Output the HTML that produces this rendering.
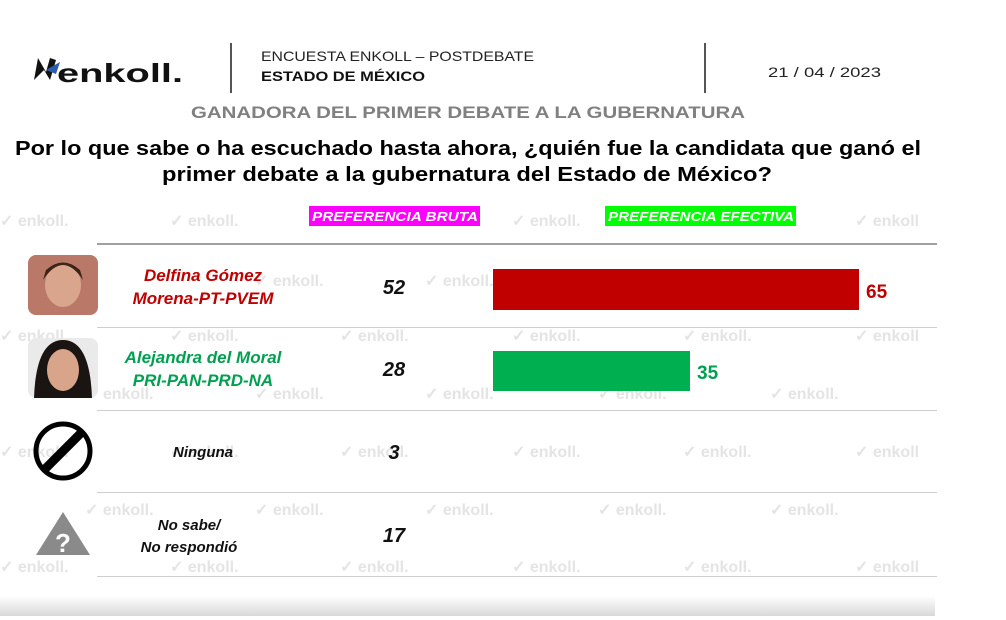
<!DOCTYPE html>
<html><head><meta charset="utf-8"><style>
html,body{margin:0;padding:0;background:#fff;width:1006px;height:620px;overflow:hidden}
text{font-family:"Liberation Sans",sans-serif}
</style></head><body>
<svg width="1006" height="620" viewBox="0 0 1006 620" xmlns="http://www.w3.org/2000/svg">
<defs><linearGradient id="bg" x1="0" y1="0" x2="0" y2="1"><stop offset="0" stop-color="#fff"/><stop offset="1" stop-color="#d8d8d8"/></linearGradient></defs>
<rect width="1006" height="620" fill="#fff"/>
<rect x="0" y="596" width="935" height="20" fill="url(#bg)"/>
<!-- watermarks -->
<g fill="#e4e4e4" font-size="16" font-weight="bold">
<text x="0" y="226">✓ enkoll.</text><text x="170" y="226">✓ enkoll.</text><text x="512" y="226">✓ enkoll.</text><text x="855" y="226">✓ enkoll</text>
<text x="255" y="286">✓ enkoll.</text><text x="425" y="286">✓ enkoll.</text>
<text x="0" y="341">✓ enkoll.</text><text x="170" y="341">✓ enkoll.</text><text x="340" y="341">✓ enkoll.</text><text x="512" y="341">✓ enkoll.</text><text x="683" y="341">✓ enkoll.</text><text x="855" y="341">✓ enkoll</text>
<text x="85" y="399">✓ enkoll.</text><text x="255" y="399">✓ enkoll.</text><text x="425" y="399">✓ enkoll.</text><text x="598" y="399">✓ enkoll.</text><text x="770" y="399">✓ enkoll.</text>
<text x="0" y="457">✓ enkoll.</text><text x="170" y="457">✓ enkoll.</text><text x="340" y="457">✓ enkoll.</text><text x="512" y="457">✓ enkoll.</text><text x="683" y="457">✓ enkoll.</text><text x="855" y="457">✓ enkoll</text>
<text x="85" y="515">✓ enkoll.</text><text x="255" y="515">✓ enkoll.</text><text x="425" y="515">✓ enkoll.</text><text x="598" y="515">✓ enkoll.</text><text x="770" y="515">✓ enkoll.</text>
<text x="0" y="572">✓ enkoll.</text><text x="170" y="572">✓ enkoll.</text><text x="340" y="572">✓ enkoll.</text><text x="512" y="572">✓ enkoll.</text><text x="683" y="572">✓ enkoll.</text><text x="855" y="572">✓ enkoll</text>
</g>
<!-- header -->
<path d="M34 80 L38 58 L46 72 L50 58 L56 60 L50 80 L44 70 Z" fill="#111"/>
<path d="M46 70 L60 62 L56 74 Z" fill="#2a5db0"/>
<text x="57" y="82" font-size="26" font-weight="bold" fill="#111" textLength="126" lengthAdjust="spacingAndGlyphs">enkoll.</text>
<rect x="230" y="43" width="2" height="50" fill="#555"/>
<rect x="704" y="43" width="2" height="50" fill="#555"/>
<text x="261" y="61" font-size="14" fill="#222" textLength="273" lengthAdjust="spacingAndGlyphs">ENCUESTA ENKOLL – POSTDEBATE</text>
<text x="261" y="81" font-size="14" font-weight="bold" fill="#111" textLength="164" lengthAdjust="spacingAndGlyphs">ESTADO DE MÉXICO</text>
<text x="768" y="77" font-size="14" fill="#222" textLength="113" lengthAdjust="spacingAndGlyphs">21 / 04 / 2023</text>
<text x="191" y="118" font-size="17" font-weight="bold" fill="#808080" textLength="554" lengthAdjust="spacingAndGlyphs">GANADORA DEL PRIMER DEBATE A LA GUBERNATURA</text>
<text x="15" y="155" font-size="20" font-weight="bold" fill="#000" textLength="906" lengthAdjust="spacingAndGlyphs">Por lo que sabe o ha escuchado hasta ahora, ¿quién fue la candidata que ganó el</text>
<text x="162" y="181" font-size="20" font-weight="bold" fill="#000" textLength="610" lengthAdjust="spacingAndGlyphs">primer debate a la gubernatura del Estado de México?</text>
<!-- column headers -->
<rect x="309" y="206" width="171" height="20" fill="#ff00ff"/>
<text x="312" y="221" font-size="13" font-style="italic" font-weight="bold" fill="#fff" textLength="166" lengthAdjust="spacingAndGlyphs">PREFERENCIA BRUTA</text>
<rect x="605" y="206" width="191" height="20" fill="#00ff00"/>
<text x="608" y="221" font-size="13" font-style="italic" font-weight="bold" fill="#fff" textLength="186" lengthAdjust="spacingAndGlyphs">PREFERENCIA EFECTIVA</text>
<!-- lines -->
<rect x="97" y="243" width="840" height="2" fill="#a0a0a0"/>
<rect x="97" y="327" width="840" height="1" fill="#cfcfcf"/>
<rect x="97" y="410" width="840" height="1" fill="#cfcfcf"/>
<rect x="97" y="492" width="840" height="1" fill="#cfcfcf"/>
<rect x="97" y="576" width="840" height="1" fill="#cfcfcf"/>
<!-- photos -->
<rect x="28" y="255" width="70" height="60" rx="8" fill="#b97868"/>
<ellipse cx="63" cy="285" rx="18" ry="22" fill="#d9a58c"/>
<path d="M43 280 Q63 250 83 280 L80 270 Q63 255 46 270 Z" fill="#3a2318"/>
<rect x="28" y="338" width="70" height="60" rx="8" fill="#eaeaea"/>
<path d="M34 398 Q36 340 63 340 Q90 340 92 398 Z" fill="#1a1412"/>
<ellipse cx="63" cy="370" rx="16" ry="21" fill="#d8a48a"/>
<!-- Ninguna icon -->
<circle cx="63" cy="451" r="27" fill="none" stroke="#000" stroke-width="5"/>
<line x1="44" y1="470" x2="82" y2="432" stroke="#000" stroke-width="9"/>
<!-- question triangle -->
<path d="M63 512 L90 555 L36 555 Z" fill="#8a8a8a"/>
<text x="63" y="552" font-size="26" font-weight="bold" fill="#fff" text-anchor="middle">?</text>
<!-- labels -->
<g font-style="italic" font-weight="bold" text-anchor="middle">
<text x="203" y="281" font-size="17" fill="#c00000">Delfina Gómez</text>
<text x="203" y="304" font-size="17" fill="#c00000">Morena-PT-PVEM</text>
<text x="203" y="363" font-size="17" fill="#00a050">Alejandra del Moral</text>
<text x="203" y="386" font-size="17" fill="#00a050">PRI-PAN-PRD-NA</text>
<text x="203" y="457" font-size="15" fill="#111">Ninguna</text>
<text x="189" y="530" font-size="15" fill="#111">No sabe/</text>
<text x="189" y="552" font-size="15" fill="#111">No respondió</text>
<text x="394" y="294" font-size="20" fill="#111">52</text>
<text x="394" y="376" font-size="20" fill="#111">28</text>
<text x="394" y="459" font-size="20" fill="#111">3</text>
<text x="394" y="542" font-size="20" fill="#111">17</text>
</g>
<!-- bars -->
<rect x="493" y="269" width="366" height="41" fill="#c00000"/>
<text x="866" y="298" font-size="19" font-weight="bold" fill="#c00000">65</text>
<rect x="493" y="351" width="197" height="40" fill="#00b050"/>
<text x="697" y="379" font-size="19" font-weight="bold" fill="#00a050">35</text>
</svg>
</body></html>
